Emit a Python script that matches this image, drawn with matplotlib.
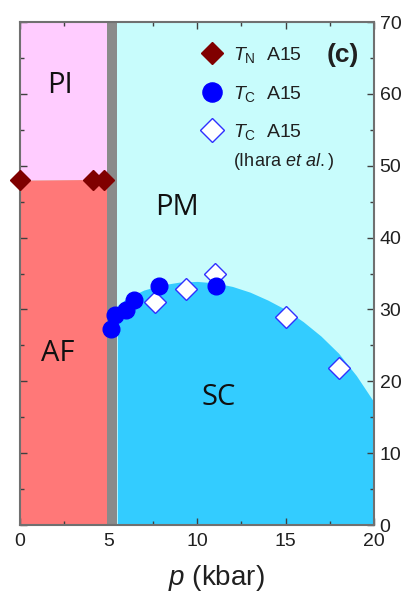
import numpy as np
import matplotlib
matplotlib.use("Agg")
import matplotlib.pyplot as plt
from matplotlib.ticker import MultipleLocator

plt.rcParams['font.family'] = ['Liberation Sans', 'DejaVu Sans']
plt.rcParams['mathtext.fontset'] = 'custom'
plt.rcParams['mathtext.rm'] = 'Liberation Sans'
plt.rcParams['mathtext.it'] = 'Liberation Sans:italic'

# TN of A15 (AF transition)
tn_p = [0.0, 4.15, 4.75]
tn_T = [48.0, 48.0, 48.0]

# Tc of A15 (this work)
tc_p = [5.14, 5.37, 6.0, 6.46, 7.87, 11.07]
tc_T = [27.3, 29.2, 29.9, 31.3, 33.2, 33.2]

# Tc of A15 (Ihara et al.)
ih_p = [7.63, 9.38, 11.0, 15.03, 18.04]
ih_T = [31.1, 32.9, 35.0, 29.0, 21.9]

# SC dome boundary
dome_p = [5.5, 6, 7, 8, 9, 10, 11, 12, 13, 14, 15, 16, 17, 18, 19, 20]
dome_T = [30.5, 31.5, 32.7, 33.4, 33.8, 33.9, 33.7, 33.2, 32.4, 31.3, 30.0, 28.3, 26.3, 23.9, 20.8, 17.1]

# AF / PI boundary and first-order line
af_p = [0.0, 4.9]
af_T = [48.0, 48.1]
band_lo, band_hi = 4.9, 5.5

fig = plt.figure(figsize=(4.19, 6.03), dpi=100)
ax = fig.add_axes([20/419, 1-525/603, 354/419, 503/603])
ax.set_facecolor('#c8fcfc')

ax.fill_between(af_p, af_T, 70, color='#ffccff', lw=0, zorder=1)
ax.fill_between(af_p, 0, af_T, color='#ff7878', lw=0, zorder=1)
ax.fill_between(dome_p, 0, dome_T, color='#33ccff', lw=0, zorder=1)
ax.axvspan(band_lo, band_hi, color='#8a8a8a', lw=0, zorder=2)

h1, = ax.plot(tn_p, tn_T, 'D', color='#800000', ms=10, ls='none', zorder=5, clip_on=False)
h2, = ax.plot(tc_p, tc_T, 'o', color='#0000ff', ms=12, ls='none', zorder=5)
h3, = ax.plot(ih_p, ih_T, 'D', mfc='white', mec='#3030ff', mew=1.0, ms=11, ls='none', zorder=4)

ax.set_xlim(0, 20)
ax.set_ylim(0, 70)
ax.xaxis.set_major_locator(MultipleLocator(5))
ax.xaxis.set_minor_locator(MultipleLocator(2.5))
ax.yaxis.set_major_locator(MultipleLocator(10))
ax.yaxis.set_minor_locator(MultipleLocator(5))
ax.yaxis.tick_right()
ax.tick_params(which='both', direction='in', top=True, bottom=True, left=True, right=True,
               color='#404040', labelsize=14, labelcolor='#202020')
ax.tick_params(which='major', length=5, width=1)
ax.tick_params(which='minor', length=3, width=1)
ax.tick_params(axis='y', labelleft=False, labelright=True, pad=4)
ax.tick_params(axis='x', pad=6)
for s in ax.spines.values():
    s.set_color('#707070')
    s.set_linewidth(1.5)

ax.set_xlabel(r'$p$ (kbar)', fontsize=20, color='#202020')
ax.xaxis.set_label_coords(0.556, -0.075)

lab_font = dict(family='Open Sans', fontsize=21, color='#101010', ha='center', va='center', zorder=6)
ax.text(2.26, 61.2, 'PI', **lab_font)
ax.text(8.85, 44.2, 'PM', **lab_font)
ax.text(2.15, 23.9, 'AF', **lab_font)
ax.text(11.2, 17.7, 'SC', **lab_font)

leg = ax.legend([h1, h2, h3],
                [r'$T_\mathrm{N}$  A15', r'$T_\mathrm{C}$  A15', r'$T_\mathrm{C}$  A15'],
                loc='upper left', bbox_to_anchor=(0.47, 0.981), frameon=False,
                fontsize=14, handlelength=1.2, handletextpad=0.5, labelspacing=0.95,
                borderpad=0.2, markerscale=1.15)
for t in leg.get_texts():
    t.set_color('#202020')
ax.text(0.602, 0.722, r'(Ihara $et$ $al.$)', transform=ax.transAxes, fontsize=13,
        color='#202020', ha='left', va='center')
ax.text(0.912, 0.935, '(c)', transform=ax.transAxes, fontsize=19, fontweight='bold',
        color='#202020', ha='center', va='center')

fig.savefig('out.png', dpi=100)
